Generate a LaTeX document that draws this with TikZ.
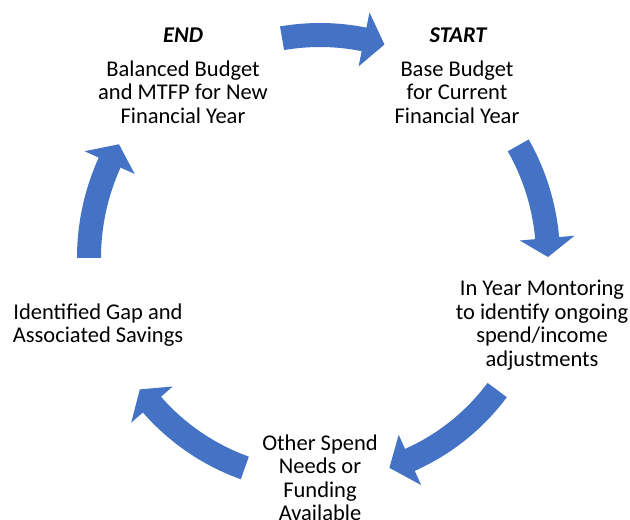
\documentclass[tikz,border=0pt]{standalone}
\usepackage{fontspec}
\setmainfont{Carlito}
\definecolor{arrowblue}{HTML}{4472C4}
\newcommand\cycarrow[4]{%
  \fill[arrowblue] ([shift={(#2:{#1+12})}]C) arc[start angle=#2, end angle=#3, radius={#1+12}]
    -- ([shift={(#3:{#1+27.5})}]C) -- ([shift={(#4:#1)}]C) -- ([shift={(#3:{#1-27.5})}]C)
    -- ([shift={(#3:{#1-12})}]C) arc[start angle=#3, end angle=#2, radius={#1-12}] -- cycle;}
\begin{document}
\begin{tikzpicture}[x=1pt,y=1pt,
  lbl/.style={font=\fontsize{22.5}{23.5}\selectfont, align=center, inner sep=0pt, text=black},
  ttl/.style={font=\fontsize{22.5}{23.5}\selectfont\bfseries\itshape, inner sep=0pt, text=black}]
\clip (0,0) rectangle (630,520);
\fill[white] (0,0) rectangle (630,520);
\coordinate (C) at (320,262);
% arrows
\cycarrow{223}{99.8}{78.6}{73.2}
\cycarrow{228}{29.6}{5.0}{0.25}
\cycarrow{221}{-36.7}{-66}{-71.7}
\cycarrow{223}{-109.7}{-138.9}{-143.9}
\cycarrow{231}{180}{155.6}{150.5}
% texts
\node[ttl] (endt) at (183,485) {END};
\node[ttl] (start) at (458,485) {START};
\node[lbl] (bal) at (183,428) {Balanced Budget\\and MTFP for New\\Financial Year};
\node[lbl] (base) at (457,428) {Base Budget\\for Current\\Financial Year};
\node[lbl] (iym) at (542,195) {In Year Montoring\\to identify ongoing\\spend/income\\adjustments};
\node[lbl] (gap) at (98,195) {Identified Gap and\\Associated Savings};
\node[lbl] (other) at (320,42) {Other Spend\\Needs or\\Funding\\Available};
\end{tikzpicture}
\end{document}
